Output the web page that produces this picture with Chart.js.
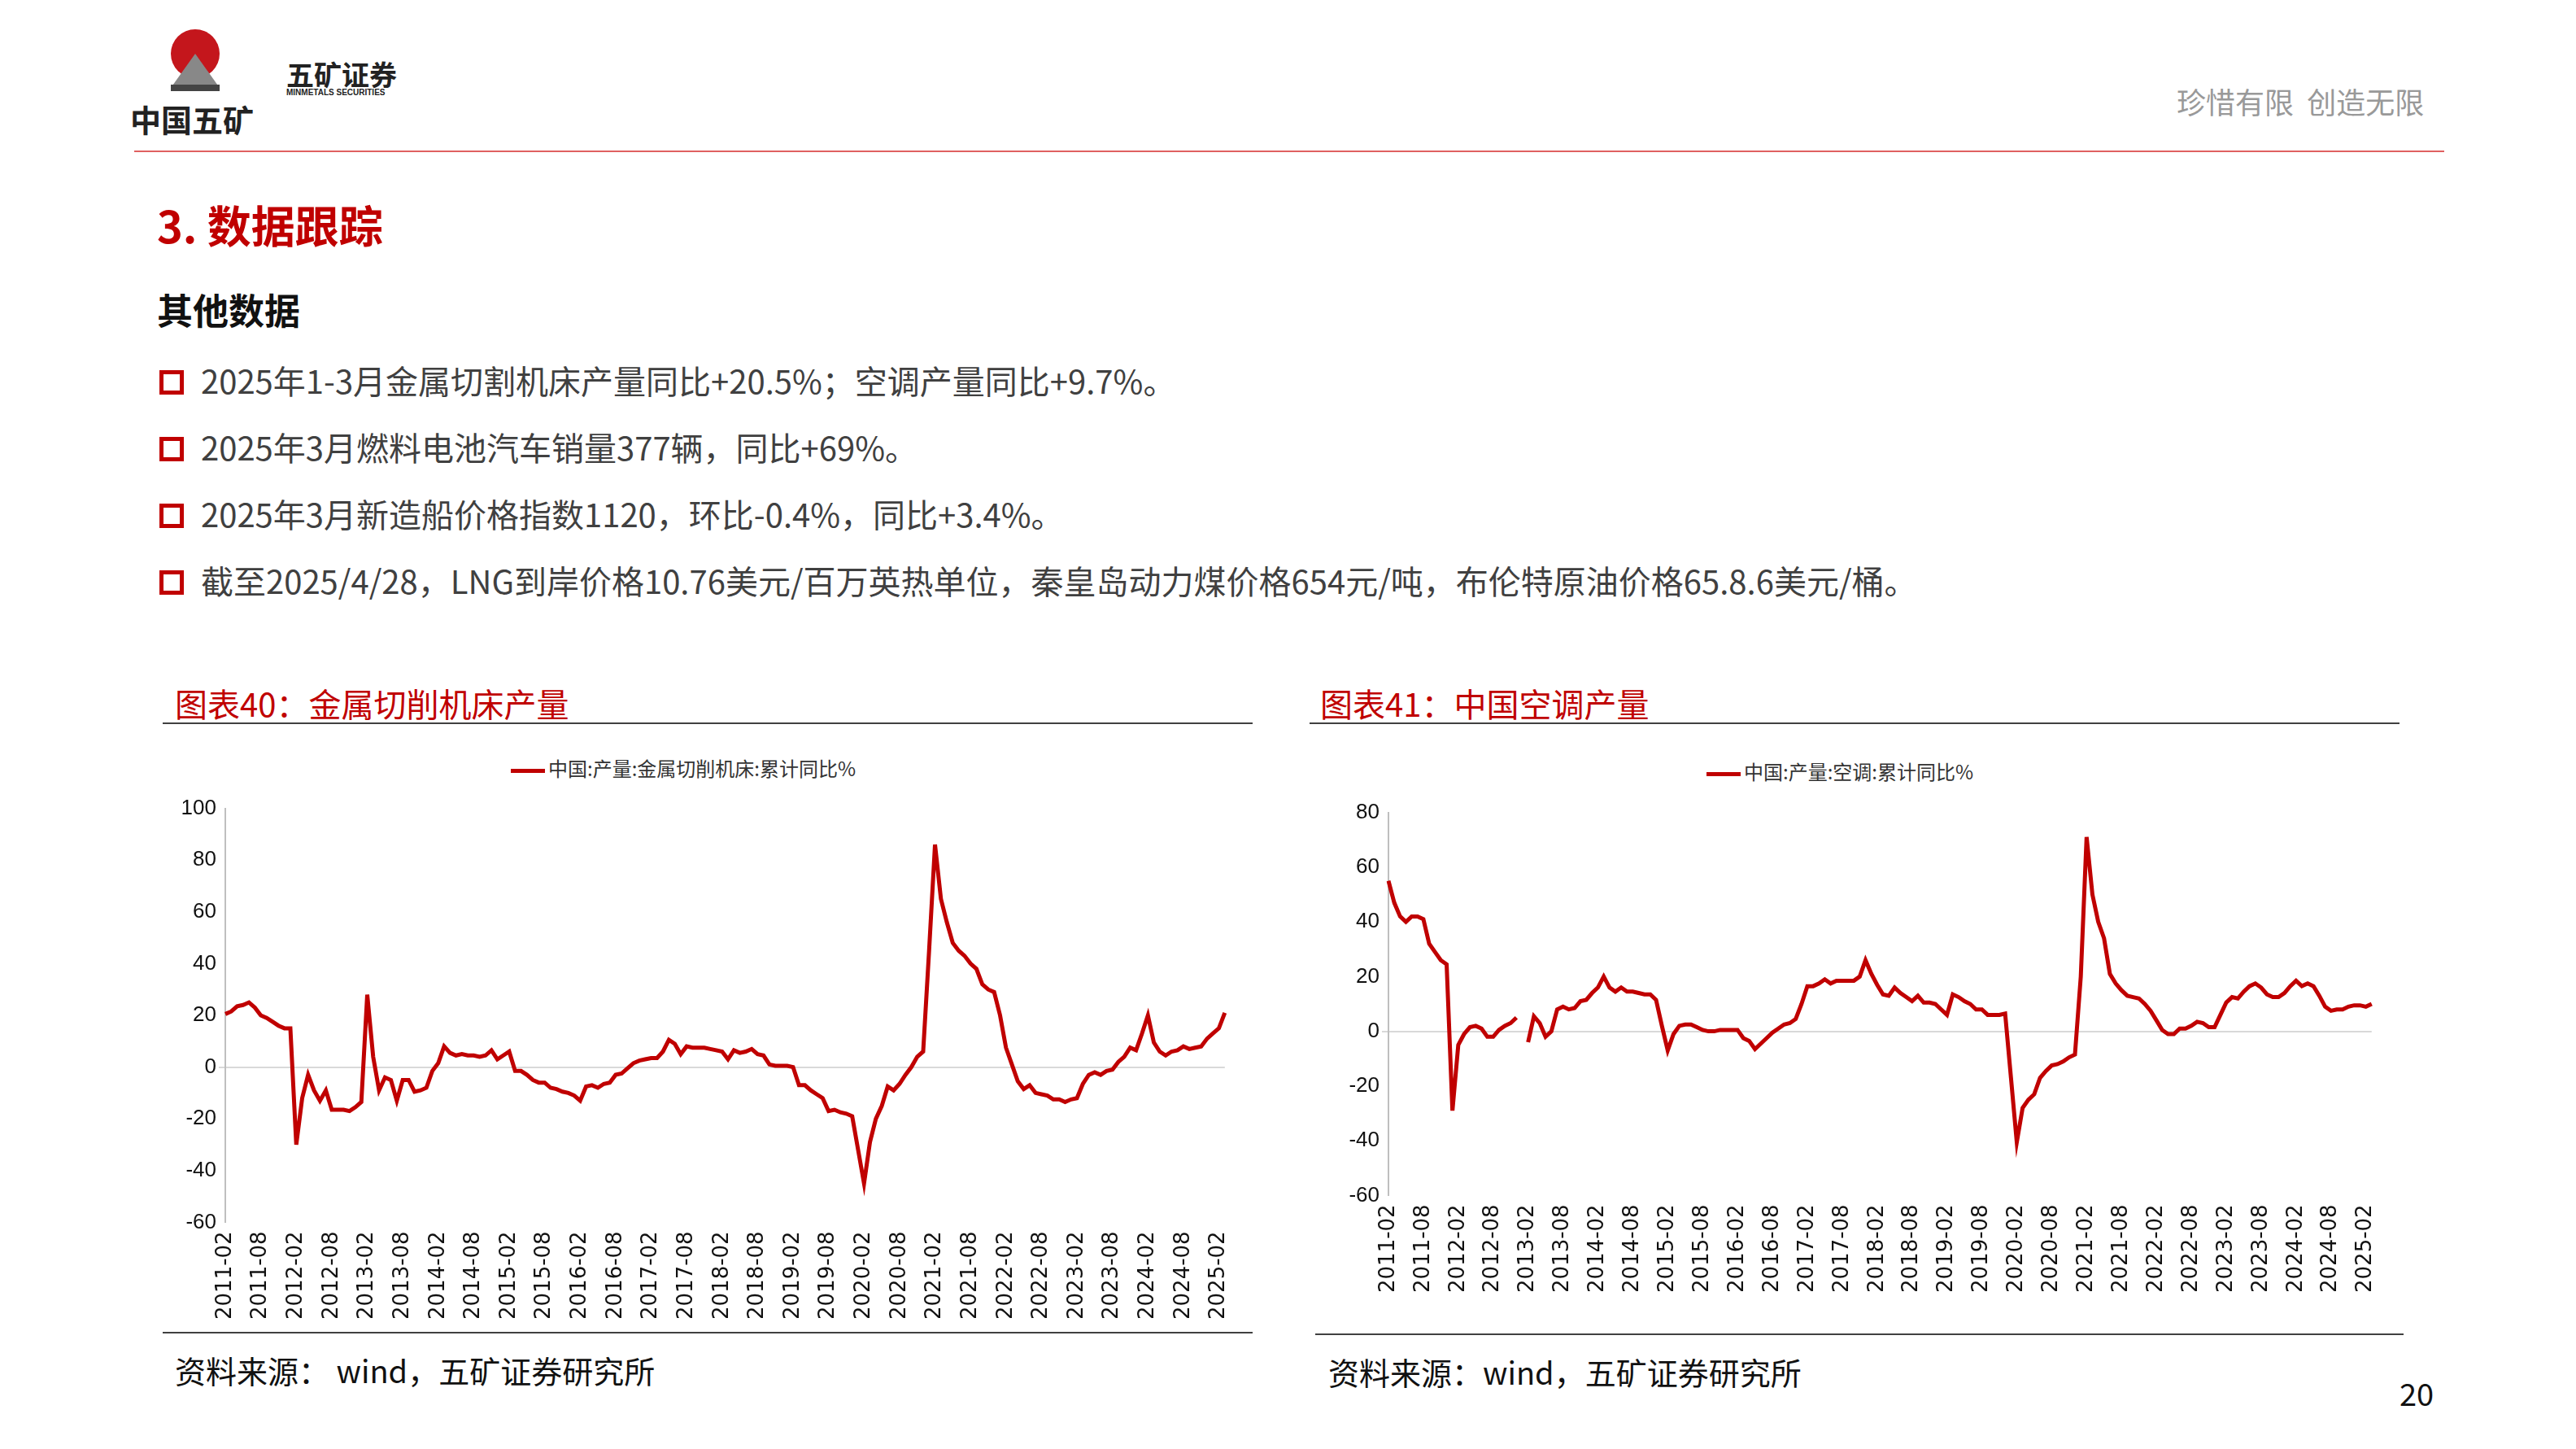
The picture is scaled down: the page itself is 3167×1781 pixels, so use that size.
<!DOCTYPE html>
<html><head><meta charset="utf-8">
<script src="https://cdn.jsdelivr.net/npm/chart.js@4"></script>
<style>
body{margin:0;width:3167px;height:1781px;background:#fff;font-family:"Noto Sans CJK SC","Noto Sans",sans-serif;position:relative;overflow:hidden}
.a{position:absolute;white-space:nowrap}
.bul{position:absolute;left:196px;width:20px;height:20px;border:5px solid #c00000}
.bt{position:absolute;left:247px;font-size:40px;color:#404040}
.ct{position:absolute;font-size:40px;color:#c00000}
.hl{position:absolute;height:2px;background:#404040}
.src{position:absolute;font-size:38px;color:#111}
.lg{position:absolute;font-size:24px;color:#333;font-family:"Noto Sans CJK SC",serif}
.lg span{display:inline-block;width:42px;height:5px;background:#c00000;vertical-align:middle;margin-right:4px}
.cv{position:absolute}
</style></head><body>
<div class="a" style="left:200px;top:36px"><svg width="130" height="80"><circle cx="40" cy="30" r="30" fill="#c4161c"/><polygon points="10,72 40,30 70,72" fill="#888"/><rect x="10" y="68" width="60" height="8" fill="#444"/></svg></div>
<div class="a" style="left:160px;top:118px;font-size:38px;font-weight:bold;color:#222">中国五矿</div>
<div class="a" style="left:352px;top:66px;font-size:34px;font-weight:bold;color:#222">五矿证券</div>
<div class="a" style="left:352px;top:108px;font-size:10px;font-weight:bold;color:#222;font-family:'Liberation Sans'">MINMETALS SECURITIES</div>
<div class="a" style="left:2676px;top:98px;font-size:36px;color:#999">珍惜有限&nbsp;&nbsp;创造无限</div>
<div class="a" style="left:165px;top:185px;width:2840px;height:2px;background:#e06060"></div>
<div class="a" style="left:193px;top:236px;font-size:54px;font-weight:bold;color:#c00000">3. 数据跟踪</div>
<div class="a" style="left:193px;top:348px;font-size:44px;font-weight:bold;color:#111">其他数据</div>
<div class="bul" style="top:455px"></div><div class="bt" style="top:438px">2025年1-3月金属切割机床产量同比+20.5%；空调产量同比+9.7%。</div>
<div class="bul" style="top:537px"></div><div class="bt" style="top:520px">2025年3月燃料电池汽车销量377辆，同比+69%。</div>
<div class="bul" style="top:619px"></div><div class="bt" style="top:602px">2025年3月新造船价格指数1120，环比-0.4%，同比+3.4%。</div>
<div class="bul" style="top:701px"></div><div class="bt" style="top:684px">截至2025/4/28，LNG到岸价格10.76美元/百万英热单位，秦皇岛动力煤价格654元/吨，布伦特原油价格65.8.6美元/桶。</div>
<div class="ct" style="left:215px;top:835px">图表40：金属切削机床产量</div>
<div class="hl" style="left:200px;top:888px;width:1340px"></div>
<div class="ct" style="left:1623px;top:835px">图表41：中国空调产量</div>
<div class="hl" style="left:1610px;top:888px;width:1340px"></div>
<div class="lg" style="left:628px;top:926px"><span></span>中国:产量:金属切削机床:累计同比%</div>
<div class="lg" style="left:2098px;top:930px"><span></span>中国:产量:空调:累计同比%</div>
<div class="cv" style="left:200px;top:975px;width:1340px;height:650px"><canvas id="c1"></canvas></div>
<div class="cv" style="left:1610px;top:980px;width:1340px;height:612px"><canvas id="c2"></canvas></div>
<div class="hl" style="left:200px;top:1637px;width:1340px"></div>
<div class="hl" style="left:1617px;top:1639px;width:1338px"></div>
<div class="src" style="left:215px;top:1656px">资料来源：&nbsp;wind，五矿证券研究所</div>
<div class="src" style="left:1633px;top:1658px">资料来源：wind，五矿证券研究所</div>
<div class="a" style="left:2950px;top:1684px;font-size:38px;color:#111">20</div>
<script>
const startYear=2011,startMonth=2,endYear=2025,endMonth=3;
const machineTool=[
20.5,21.5,23.5,24,25,23,20,19,17.5,16,15,
15,-30,-12,-3,-9,-13,-9,-16.5,-16.5,-16.5,-17,-15.5,
-13.5,28,4,-9,-4,-5,-13,-5,-5,-9.5,-9,-8,
-1.5,1.5,8,5.5,4.5,5,4.5,4.5,4,4.5,6.5,3,
4.5,6,-1.5,-1.5,-3,-5,-6,-6,-8,-8.5,-9.5,-10,
-11,-13,-7.5,-7,-8,-6.5,-6,-3,-2.5,-0.5,1.5,2.5,
3,3.5,3.5,6,10.5,9,5,8,7.5,7.5,7.5,7,
6.5,6,3,6.5,5.5,6,7,5,4.5,1,0.5,0.5,
0.5,0,-7,-7,-9,-10.5,-12,-17,-16.5,-17.5,-18,-19,
-32,-45,-29,-20,-15,-7.5,-9,-6.5,-3,0,4,6,
45,86,65,56,48,45,43,40,38,32,30,29,
20,7.5,1,-5.5,-8.5,-7,-10,-10.5,-11,-12.5,-12.5,-13.5,
-12.5,-12,-6.5,-3,-2,-3,-1.5,-1,2,4,7.5,6.5,
13,20,9.5,6,4.5,6,6.5,8,7,7.5,8,11,
13,15,21];
const airCon=[
55,47,42,40,42,42,41,32,29,26,24.5,
-29,-5,-1,1.5,2,1,-2,-2,0.5,2,3,5,
null,-4,5.5,3,-2,0,8,9,8,8.5,11,11.5,
14,16,20,16,14.5,16,14.5,14.5,14,13.5,13.5,11.5,
2,-7,-1,2,2.5,2.5,1.5,0.5,0,0,0.5,0.5,
0.5,0.5,-2.5,-3.5,-6.5,-4.5,-2.5,-0.5,1,2.5,3,4.5,
10,16.5,16.5,17.5,19,17.5,18.5,18.5,18.5,18.5,20,26,
21,17,13.5,13,16,14,12.5,11,13,10.5,10.5,10,
8,6,13.5,12.5,11,10,8,8,6,6,6,6.5,
-17,-40.5,-28,-25,-23,-17,-14.5,-12.5,-12,-11,-9.5,-8.5,
20,71,50,40,34,21,17.5,15,13,12.5,12,10,
7.5,4,0.5,-1,-1,1,1,2,3.5,3,1.5,1.5,
6,10.5,12.5,12,14.5,16.5,17.5,16,13.5,12.5,12.5,14,
16.5,18.5,16.5,17.5,16.5,13,9,7.5,8,8,9,9.5,
9.5,9,10];
const months=[];
for(let y=startYear,m=startMonth;y<endYear||(y===endYear&&m<=endMonth);){months.push(y+'-'+String(m).padStart(2,'0'));m++;if(m>12){m=1;y++;}}
function mk(id,data,min,max,step,yw){
 new Chart(document.getElementById(id),{type:'line',
  data:{labels:months,datasets:[{data:data,borderColor:'#c00000',borderWidth:5,pointRadius:0,tension:0,spanGaps:false}]},
  options:{responsive:true,maintainAspectRatio:false,animation:false,
   layout:{padding:{left:0,right:20,top:6}},
   plugins:{legend:{display:false},tooltip:{enabled:false}},
   scales:{
    x:{border:{display:false},grid:{display:false},
       ticks:{autoSkip:false,maxRotation:90,minRotation:90,color:'#111',font:{size:26,family:'DejaVu Sans'},
       callback:(v,i)=>i%6===0?months[i]:''}},
    y:{min:min,max:max,afterFit:s=>{s.width=yw;},
       border:{display:true,color:'#bfbfbf',width:2},
       grid:{drawTicks:true,tickLength:8,color:c=>c.tick&&c.tick.value===0?'#d9d9d9':'rgba(0,0,0,0)',lineWidth:2},
       ticks:{stepSize:step,color:'#111',font:{size:26,family:'Liberation Sans Narrow, Liberation Sans'}}}
   }}});
}
mk('c1',machineTool,-60,100,20,77);
mk('c2',airCon,-60,80,20,97);
</script>
</body></html>
